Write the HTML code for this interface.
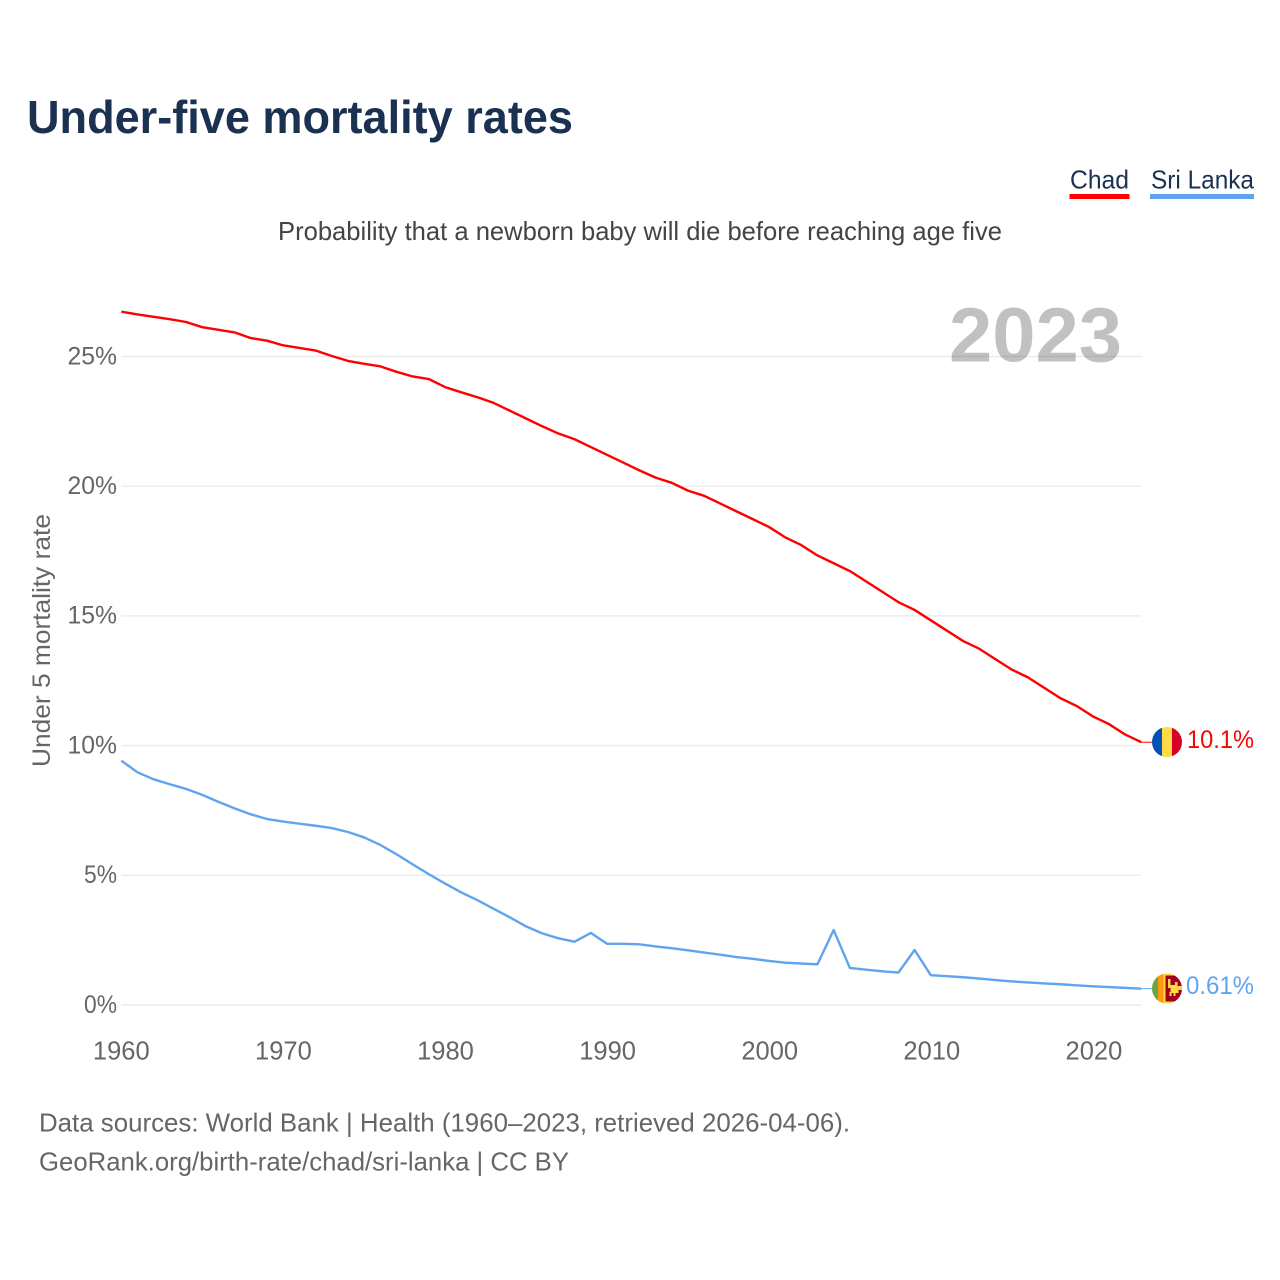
<!DOCTYPE html>
<html lang="en">
<head>
<meta charset="utf-8">
<title>Under-five mortality rates</title>
<style>
  html, body { margin: 0; padding: 0; background: #fff; }
  svg { display: block; font-family: "Liberation Sans", sans-serif; }
</style>
</head>
<body>
<svg id="chart" xmlns="http://www.w3.org/2000/svg" width="1280" height="1280" viewBox="0 0 1280 1280">
  <defs>
    <clipPath id="flag-clip-a"><circle cx="1167" cy="742" r="15"/></clipPath>
    <clipPath id="flag-clip-b"><circle cx="1167" cy="988.5" r="15"/></clipPath>
  </defs>
  <rect x="0" y="0" width="1280" height="1280" fill="#ffffff"/>
  <text x="27" y="133" font-size="46" font-weight="700" fill="#1a3151" textLength="546" lengthAdjust="spacingAndGlyphs">Under-five mortality rates</text>

  <g>
    <g>
      <text x="1070" y="188.5" font-size="26" fill="#1a3151" textLength="59" lengthAdjust="spacingAndGlyphs">Chad</text>
      <rect x="1069.5" y="194" width="60" height="5" fill="#ff0000"/>
    </g>
    <g>
      <text x="1151" y="188.5" font-size="26" fill="#1a3151" textLength="103" lengthAdjust="spacingAndGlyphs">Sri Lanka</text>
      <rect x="1150" y="194" width="104" height="5" fill="#5fa5ee"/>
    </g>
  </g>

  <text x="278" y="240" font-size="26" fill="#444444" textLength="724" lengthAdjust="spacingAndGlyphs">Probability that a newborn baby will die before reaching age five</text>
  <g id="grid"></g>
  <text x="949" y="361.5" font-size="77" font-weight="700" fill="#000000" fill-opacity="0.245" textLength="173" lengthAdjust="spacingAndGlyphs">2023</text>
  <g id="y-labels"></g>
  <g id="x-labels"></g>
  <text transform="translate(50,767) rotate(-90)" x="0" y="0" font-size="25" fill="#666666" textLength="253" lengthAdjust="spacingAndGlyphs">Under 5 mortality rate</text>
  <g id="series"></g>

  <g clip-path="url(#flag-clip-a)">
    <rect x="1152" y="727" width="30" height="30" fill="#ffda44"/>
    <rect x="1152" y="727" width="10" height="30" fill="#0052b4"/>
    <rect x="1172" y="727" width="10" height="30" fill="#d80027"/>
  </g>
  <g clip-path="url(#flag-clip-b)">
    <rect x="1152" y="973.5" width="30" height="30" fill="#ffda44"/>
    <rect x="1152" y="973.5" width="6" height="30" fill="#6da544"/>
    <rect x="1158" y="973.5" width="5.5" height="30" fill="#ff9811"/>
    <rect x="1165.5" y="975.5" width="16.5" height="26" fill="#a2001d"/>
    <path d="M1168 979h2.5v6h4.5v-3h2.5v4h5v4h-4v3h-3v3h-2v-3h-2v3h-2v-4h1v-4h-2.5z" fill="#ffda44"/>
  </g>
  <text x="1187" y="748" font-size="25" fill="#ff0000" textLength="67" lengthAdjust="spacingAndGlyphs">10.1%</text>
  <text x="1186" y="994" font-size="25" fill="#5fa5ee" textLength="68" lengthAdjust="spacingAndGlyphs">0.61%</text>

  <text x="39" y="1131.5" font-size="26" fill="#666666" textLength="811" lengthAdjust="spacingAndGlyphs">Data sources: World Bank | Health (1960–2023, retrieved 2026-04-06).</text>
  <text x="39" y="1170.5" font-size="26" fill="#666666" textLength="530" lengthAdjust="spacingAndGlyphs">GeoRank.org/birth-rate/chad/sri-lanka | CC BY</text>
</svg>
<script>
const startYear = 1960;
const yTicks = [0, 5, 10, 15, 20, 25];
const yTickLabels = ["0%", "5%", "10%", "15%", "20%", "25%"];
const xTicks = [1960, 1970, 1980, 1990, 2000, 2010, 2020];
const xTickLabels = ["1960", "1970", "1980", "1990", "2000", "2010", "2020"];
const chadValues = [
  26.73, 26.62, 26.53, 26.44, 26.33, 26.13, 26.03, 25.93, 25.71, 25.61,
  25.43, 25.33, 25.23, 25.02, 24.83, 24.72, 24.62, 24.41, 24.23, 24.13,
  23.82, 23.62, 23.43, 23.21, 22.91, 22.61, 22.31, 22.03, 21.81, 21.51,
  21.21, 20.91, 20.61, 20.33, 20.13, 19.83, 19.63, 19.33, 19.03, 18.73,
  18.43, 18.03, 17.73, 17.33, 17.03, 16.73, 16.33, 15.93, 15.53, 15.23,
  14.83, 14.43, 14.03, 13.73, 13.33, 12.93, 12.63, 12.23, 11.83, 11.53,
  11.13, 10.83, 10.43, 10.13
];
const sriLankaValues = [
  9.42, 8.97, 8.70, 8.51, 8.33, 8.10, 7.83, 7.58, 7.35, 7.17,
  7.07, 6.99, 6.91, 6.82, 6.67, 6.46, 6.17, 5.81, 5.42, 5.04,
  4.68, 4.34, 4.04, 3.71, 3.38, 3.03, 2.76, 2.57, 2.44, 2.78,
  2.36, 2.36, 2.34, 2.26, 2.19, 2.11, 2.02, 1.94, 1.85, 1.78,
  1.70, 1.63, 1.60, 1.57, 2.89, 1.43, 1.36, 1.30, 1.25, 2.12,
  1.15, 1.11, 1.07, 1.02, 0.96, 0.91, 0.87, 0.83, 0.80, 0.76,
  0.72, 0.69, 0.66, 0.63
];
const NS = "http://www.w3.org/2000/svg";
const xScale = function (year) { return 121.3 + (year - 1960) * 16.19; };
const yScale = function (value) { return 1005 - value * 25.94; };
const gridGroup = document.getElementById("grid");
const yLabelGroup = document.getElementById("y-labels");
const xLabelGroup = document.getElementById("x-labels");
const seriesGroup = document.getElementById("series");

yTicks.forEach(function (tick, i) {
  const line = document.createElementNS(NS, "line");
  
  
  line.setAttribute("x1", xScale(startYear));
  line.setAttribute("x2", xScale(2023));
  line.setAttribute("y1", yScale(tick));
  line.setAttribute("y2", yScale(tick));
  line.setAttribute("stroke", "#ececec");
  line.setAttribute("stroke-width", "1.4");
  gridGroup.appendChild(line);

  const label = document.createElementNS(NS, "text");
  
  
  label.setAttribute("x", 117);
  label.setAttribute("y", yScale(tick) + 7.8);
  label.setAttribute("text-anchor", "end");
  label.setAttribute("font-size", "25");
  label.setAttribute("fill", "#666666");
  label.setAttribute("textLength", yTickLabels[i].length * 16.5);
  label.setAttribute("lengthAdjust", "spacingAndGlyphs");
  label.textContent = yTickLabels[i];
  yLabelGroup.appendChild(label);
});

xTicks.forEach(function (tick, i) {
  const label = document.createElementNS(NS, "text");
  
  
  label.setAttribute("x", xScale(tick) + (tick - 1960) * 0.02);
  label.setAttribute("y", 1059.5);
  label.setAttribute("text-anchor", "middle");
  label.setAttribute("font-size", "25.5");
  label.setAttribute("fill", "#666666");
  label.textContent = xTickLabels[i];
  xLabelGroup.appendChild(label);
});

function pointsFor(values) {
  return values.map(function (value, i) {
    return xScale(startYear + i).toFixed(2) + "," + yScale(value).toFixed(2);
  }).join(" ");
}

function lastY(values) {
  return yScale(values[values.length - 1]);
}

const stubChad = document.createElementNS(NS, "line");


stubChad.setAttribute("x1", xScale(2023));
stubChad.setAttribute("x2", 1152);
stubChad.setAttribute("y1", lastY(chadValues));
stubChad.setAttribute("y2", lastY(chadValues));
stubChad.setAttribute("stroke", "#ff0000");
stubChad.setAttribute("stroke-width", "1");
seriesGroup.appendChild(stubChad);

const stubSriLanka = document.createElementNS(NS, "line");


stubSriLanka.setAttribute("x1", xScale(2023));
stubSriLanka.setAttribute("x2", 1152);
stubSriLanka.setAttribute("y1", lastY(sriLankaValues));
stubSriLanka.setAttribute("y2", lastY(sriLankaValues));
stubSriLanka.setAttribute("stroke", "#5fa5ee");
stubSriLanka.setAttribute("stroke-width", "1");
seriesGroup.appendChild(stubSriLanka);

const chadLine = document.createElementNS(NS, "polyline");


chadLine.setAttribute("points", pointsFor(chadValues));
chadLine.setAttribute("fill", "none");
chadLine.setAttribute("stroke", "#ff0000");
chadLine.setAttribute("stroke-width", "2.4");
chadLine.setAttribute("stroke-linejoin", "round");
seriesGroup.appendChild(chadLine);

const sriLankaLine = document.createElementNS(NS, "polyline");


sriLankaLine.setAttribute("points", pointsFor(sriLankaValues));
sriLankaLine.setAttribute("fill", "none");
sriLankaLine.setAttribute("stroke", "#5fa5ee");
sriLankaLine.setAttribute("stroke-width", "2.4");
sriLankaLine.setAttribute("stroke-linejoin", "round");
seriesGroup.appendChild(sriLankaLine);
</script>
</body>
</html>
